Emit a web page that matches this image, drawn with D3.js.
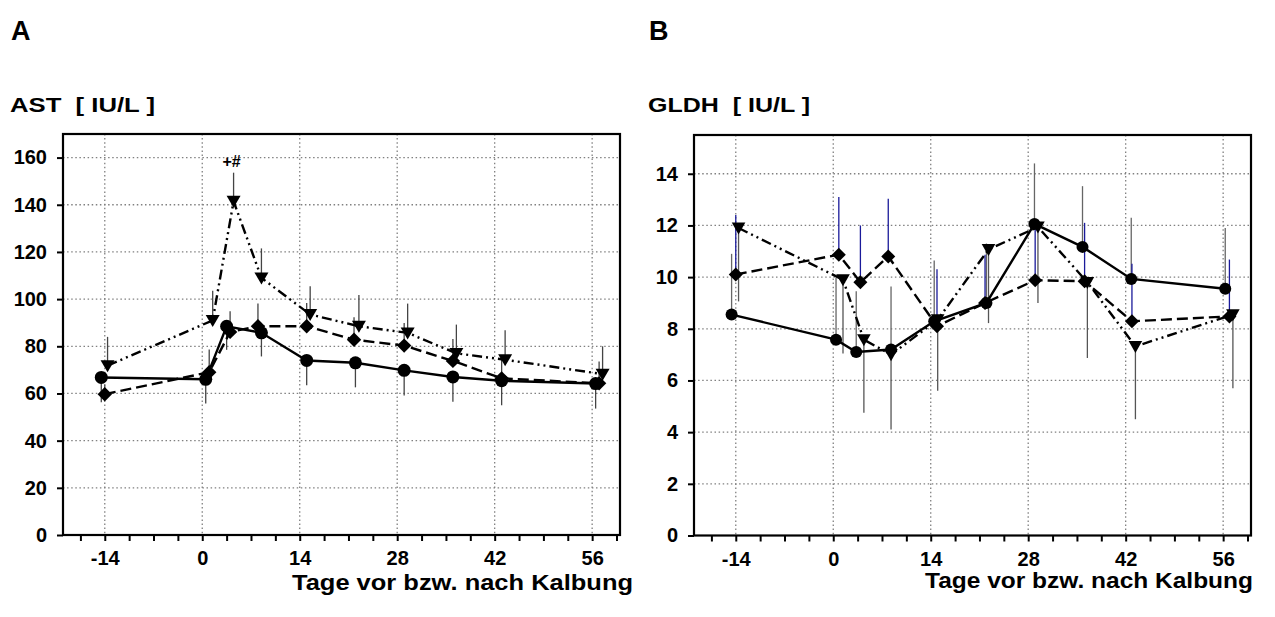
<!DOCTYPE html>
<html>
<head>
<meta charset="utf-8">
<script src="https://cdn.jsdelivr.net/npm/d3@7"></script>
<style>
  body { margin: 0; background: #fff; }
  text { font-family: Arial, "Liberation Sans", sans-serif; font-weight: bold; fill: #000; }
</style>
</head>
<body>
<script>
// x ticks (days before/after calving)
var xLabels = [-14, 0, 14, 28, 42, 56];

// ---- Panel A : AST [IU/L] ----
var astYTicks = [0, 20, 40, 60, 80, 100, 120, 140, 160];
var astDaysCircle = [-14.5, 0.5, 3.5, 8.5, 15, 22, 29, 36, 43, 56.5];
var astCircle = [66.8, 66, 88.5, 85.7, 74, 73, 69.8, 67, 65.4, 64.2];
var astCircleSd = [10.5, 10.3, 10, 10, 10.5, 10.4, 10.7, 10.5, 10.4, 10.6];
var astDaysDiamond = [-14, 1, 4, 8, 15, 21.8, 29, 36, 43, 57];
var astDiamond = [59.7, 69, 86.1, 88.5, 88.5, 82.8, 80.3, 73.8, 66.4, 64.3];
var astDiamondSd = [4, 9.6, 8.8, 9.6, 9.9, 9.5, 9.6, 9.3, 8, 9.3];
var astDaysTriangle = [-13.6, 1.5, 4.5, 8.5, 15.5, 22.5, 29.5, 36.5, 43.5, 57.5];
var astTriangle = [71.8, 91, 141.5, 109, 93.5, 88.5, 85.7, 77, 74.3, 68.2];
var astTriangleSd = [12.2, 12.6, 12.1, 12.5, 12, 13.2, 12.4, 12.2, 12.5, 11.8];

// ---- Panel B : GLDH [IU/L] ----
var gldhYTicks = [0, 2, 4, 6, 8, 10, 12, 14];
var gldhDaysCircle = [-14.6, 0.4, 3.3, 8.3, 14.5, 22, 28.9, 35.8, 42.8, 56.3];
var gldhCircle = [8.55, 7.58, 7.1, 7.2, 8.29, 9.0, 12.06, 11.17, 9.93, 9.55];
var gldhCircleSd = [2.35, 2.39, 2.35, 2.44, 2.35, 2.3, 2.34, 2.35, 2.37, 2.35];
var gldhDaysDiamond = [-14, 0.8, 3.9, 7.9, 14.9, 21.8, 29, 36.1, 42.9, 56.9];
var gldhDiamond = [10.1, 10.87, 9.8, 10.8, 8.1, 9.0, 9.88, 9.84, 8.29, 8.48];
var gldhDiamondSd = [2.3, 2.23, 2.2, 2.23, 2.2, 1.87, 2.22, 2.26, 2.23, 2.2];
var gldhDaysTriangle = [-13.6, 1.4, 4.4, 8.3, 15, 22.3, 29.4, 36.5, 43.4, 57.4];
var gldhTriangle = [11.9, 9.9, 7.58, 7.0, 8.35, 11.07, 11.94, 9.8, 7.32, 8.55];
var gldhTriangleSd = [2.84, 2.86, 2.83, 2.9, 2.75, 2.85, 2.94, 2.93, 2.82, 2.85];

function zip(days, vals, sd) {
    return days.map(function (d, i) { return {x: d, y: vals[i], sd: sd[i]}; });
}

var svg = d3.select("body").append("svg")
        .attr("width", 1275)
        .attr("height", 617);

function drawPanel(p) {
    var width = p.right - p.left,
        height = p.bottom - p.top;

    var g = svg.append("g")
            .attr("transform", "translate(" + p.left + "," + p.top + ")");

    var x = d3.scaleLinear().domain([-20, 60]).range([0, width]);
    var y = d3.scaleLinear().domain([0, p.yMax]).range([height, 0]);

    // dotted grid
    g.selectAll(".hgrid")
            .data(p.yTicks.filter(function (d) { return d > 0; }))
            .enter().append("line")
            .attr("x1", 0).attr("x2", width)
            .attr("y1", function (d) { return y(d); })
            .attr("y2", function (d) { return y(d); })
            .attr("stroke", "#808080")
            .attr("stroke-width", 1.3)
            .attr("stroke-dasharray", "1.5,2.6");
    g.selectAll(".vgrid")
            .data(xLabels)
            .enter().append("line")
            .attr("y1", 0).attr("y2", height)
            .attr("x1", function (d) { return x(d); })
            .attr("x2", function (d) { return x(d); })
            .attr("stroke", "#808080")
            .attr("stroke-width", 1.3)
            .attr("stroke-dasharray", "1.5,2.6");

    // axes
    var xAxis = g.append("g")
            .attr("transform", "translate(0," + height + ")")
            .call(d3.axisBottom(x)
                    .tickValues(d3.range(-17.5, 60, 3.5))
                    .tickSize(6)
                    .tickSizeOuter(0)
                    .tickPadding(10)
                    .tickFormat(function (d) { return d % 14 === 0 ? d : ""; }));
    xAxis.select(".domain").remove();
    xAxis.selectAll("line").attr("stroke", "#000").attr("stroke-width", 2);
    xAxis.selectAll("text").attr("font-size", p.tickFont).attr("font-family", null);

    var yAxis = g.append("g")
            .call(d3.axisLeft(y)
                    .tickValues(p.yTicks)
                    .tickSize(6)
                    .tickSizeOuter(0)
                    .tickPadding(10));
    yAxis.select(".domain").remove();
    yAxis.selectAll("line").attr("stroke", "#000").attr("stroke-width", 2);
    yAxis.selectAll("text").attr("font-size", p.tickFont).attr("font-family", null);

    // error bars
    p.series.forEach(function (s) {
        g.selectAll(null)
                .data(s.data)
                .enter().append("line")
                .attr("x1", function (d) { return x(d.x); })
                .attr("x2", function (d) { return x(d.x); })
                .attr("y1", function (d) { return y(d.y); })
                .attr("y2", function (d) { return y(d.y + s.dir * d.sd); })
                .attr("stroke", s.errColor)
                .attr("stroke-width", 1.3);
    });

    // lines
    var line = d3.line()
            .x(function (d) { return x(d.x); })
            .y(function (d) { return y(d.y); });
    p.series.forEach(function (s) {
        g.append("path")
                .datum(s.data)
                .attr("d", line)
                .attr("fill", "none")
                .attr("stroke", "#000")
                .attr("stroke-width", 2.4)
                .attr("stroke-dasharray", s.dash);
    });

    // markers
    var m = p.marker;
    p.series.forEach(function (s) {
        var sel = g.selectAll(null).data(s.data).enter();
        if (s.shape === "circle") {
            sel.append("circle")
                    .attr("cx", function (d) { return x(d.x); })
                    .attr("cy", function (d) { return y(d.y); })
                    .attr("r", m.r)
                    .attr("fill", "#000");
        } else if (s.shape === "diamond") {
            sel.append("path")
                    .attr("d", "M0," + (-m.d) + "L" + m.d + ",0L0," + m.d + "L" + (-m.d) + ",0Z")
                    .attr("transform", function (d) { return "translate(" + x(d.x) + "," + y(d.y) + ")"; })
                    .attr("fill", "#000");
        } else {
            sel.append("path")
                    .attr("d", "M" + (-m.t) + "," + (-m.th * 0.45) + "L" + m.t + "," + (-m.th * 0.45) + "L0," + (m.th * 0.55) + "Z")
                    .attr("transform", function (d) { return "translate(" + x(d.x) + "," + y(d.y) + ")"; })
                    .attr("fill", "#000");
        }
    });

    // frame
    g.append("rect")
            .attr("width", width)
            .attr("height", height)
            .attr("fill", "none")
            .attr("stroke", "#000")
            .attr("stroke-width", 2.2);

    return {g: g, x: x, y: y};
}

var pa = drawPanel({
    left: 63, right: 620, top: 134, bottom: 535,
    yMax: 170, yTicks: astYTicks, tickFont: 20,
    marker: {r: 6.5, d: 7.2, t: 7, th: 12},
    series: [
        {shape: "circle", data: zip(astDaysCircle, astCircle, astCircleSd), dir: -1, errColor: "#444", dash: null},
        {shape: "diamond", data: zip(astDaysDiamond, astDiamond, astDiamondSd), dir: 1, errColor: "#444", dash: "11,5"},
        {shape: "triangle", data: zip(astDaysTriangle, astTriangle, astTriangleSd), dir: 1, errColor: "#444", dash: "10,4,2,4,2,4"}
    ]
});

// significance mark over the AST peak
pa.g.append("text")
        .attr("x", pa.x(astDaysTriangle[2]) - 2)
        .attr("y", pa.y(astTriangle[2] + astTriangleSd[2]) - 6)
        .attr("text-anchor", "middle")
        .attr("font-size", 16)
        .attr("font-weight", "normal")
        .text("+#");

drawPanel({
    left: 694, right: 1251, top: 135, bottom: 535.5,
    yMax: 15.5, yTicks: gldhYTicks, tickFont: 20,
    marker: {r: 6, d: 7, t: 6.8, th: 12},
    series: [
        {shape: "circle", data: zip(gldhDaysCircle, gldhCircle, gldhCircleSd), dir: 1, errColor: "#666", dash: null},
        {shape: "diamond", data: zip(gldhDaysDiamond, gldhDiamond, gldhDiamondSd), dir: 1, errColor: "#1a1a9a", dash: "11,5"},
        {shape: "triangle", data: zip(gldhDaysTriangle, gldhTriangle, gldhTriangleSd), dir: -1, errColor: "#555", dash: "10,4,2,4,2,4"}
    ]
});

// panel letters and titles
svg.append("text").attr("x", 11).attr("y", 40).attr("font-size", 27).text("A");
svg.append("text").attr("x", 649).attr("y", 40).attr("font-size", 27).text("B");
svg.append("text").attr("x", 10).attr("y", 112).attr("font-size", 21)
        .attr("textLength", 145).attr("lengthAdjust", "spacingAndGlyphs")
        .attr("xml:space", "preserve").text("AST  [ IU/L ]");
svg.append("text").attr("x", 648).attr("y", 112).attr("font-size", 21)
        .attr("textLength", 162).attr("lengthAdjust", "spacingAndGlyphs")
        .attr("xml:space", "preserve").text("GLDH  [ IU/L ]");
svg.append("text").attr("x", 292).attr("y", 590).attr("font-size", 22)
        .attr("textLength", 341).attr("lengthAdjust", "spacingAndGlyphs")
        .text("Tage vor bzw. nach Kalbung");
svg.append("text").attr("x", 925).attr("y", 588).attr("font-size", 22)
        .attr("textLength", 328).attr("lengthAdjust", "spacingAndGlyphs")
        .text("Tage vor bzw. nach Kalbung");
</script>
</body>
</html>
